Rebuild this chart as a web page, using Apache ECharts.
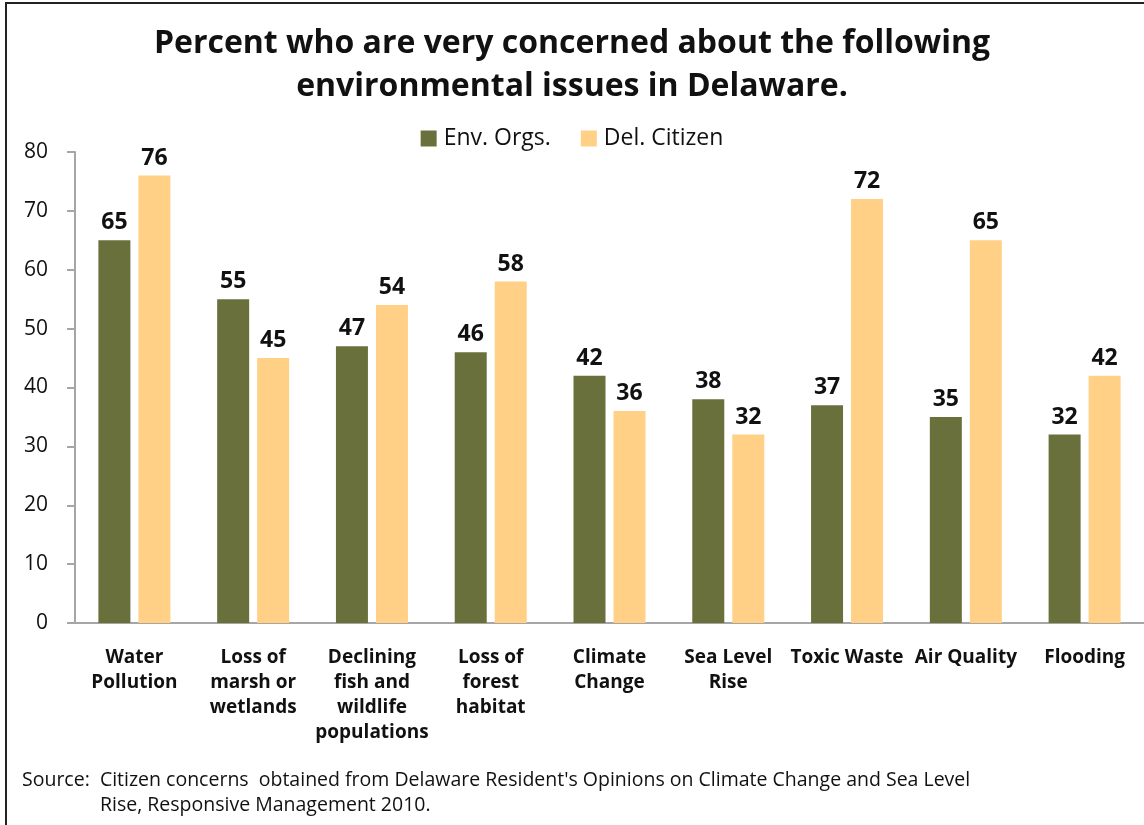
<!DOCTYPE html>
<html>
<head>
<meta charset="utf-8">
<script src="https://cdn.jsdelivr.net/npm/echarts@6/dist/echarts.min.js"></script>
<style>
  html, body { margin: 0; padding: 0; background: #fff; }
  #chart { width: 1144px; height: 825px; }
</style>
</head>
<body>
<div id="chart"></div>
<script>
// Issue categories (line breaks as they wrap under the axis)
const categories = [
  'Water\nPollution',
  'Loss of\nmarsh or\nwetlands',
  'Declining\nfish and\nwildlife\npopulations',
  'Loss of\nforest\nhabitat',
  'Climate\nChange',
  'Sea Level\nRise',
  'Toxic Waste',
  'Air Quality',
  'Flooding'
];
// Percent very concerned
const envOrgs = [65, 55, 47, 46, 42, 38, 37, 35, 32];
const delCitizen = [76, 45, 54, 58, 36, 32, 72, 65, 42];
const yTicks = { min: 0, max: 80, interval: 10 };

const FONT = '"Open Sans", "Noto Sans", sans-serif';
const GREEN = '#6a703b';
const YELLOW = '#ffd086';

const chart = echarts.init(document.getElementById('chart'), null, { renderer: 'canvas' });

const valueLabel = {
  show: true,
  position: 'top',
  distance: 6,
  color: '#111',
  fontFamily: FONT,
  fontWeight: 'bold',
  fontSize: 23
};

chart.setOption({
  animation: false,
  backgroundColor: '#fff',
  title: {
    text: 'Percent who are very concerned about the following\nenvironmental issues in Delaware.',
    left: 'center',
    top: 17,
    textStyle: {
      fontFamily: FONT,
      fontWeight: 'bold',
      fontSize: 32,
      lineHeight: 43,
      color: '#111'
    }
  },
  legend: {
    top: 122,
    left: 'center',
    itemWidth: 16,
    itemHeight: 16,
    itemGap: 30,
    icon: 'rect',
    textStyle: { fontFamily: FONT, fontSize: 23, color: '#111', padding: [0, 0, 0, 2] },
    data: ['Env. Orgs.', 'Del. Citizen']
  },
  grid: {
    left: 75,
    right: -1,
    top: 152,
    bottom: 202,
    containLabel: false
  },
  xAxis: {
    type: 'category',
    data: categories,
    axisLine: { lineStyle: { color: '#a6a6a6', width: 2 } },
    axisTick: { show: false },
    axisLabel: {
      interval: 0,
      margin: 22,
      fontFamily: FONT,
      fontWeight: 'bold',
      fontSize: 19,
      lineHeight: 25,
      color: '#111',
      verticalAlign: 'top'
    }
  },
  yAxis: {
    type: 'value',
    min: yTicks.min,
    max: yTicks.max,
    interval: yTicks.interval,
    axisLine: { show: true, lineStyle: { color: '#a6a6a6', width: 2 } },
    axisTick: { show: true, inside: false, length: 8, lineStyle: { color: '#a6a6a6', width: 2 } },
    splitLine: { show: false },
    axisLabel: {
      margin: 27,
      fontFamily: FONT,
      fontSize: 21,
      color: '#111'
    }
  },
  series: [
    {
      name: 'Env. Orgs.',
      type: 'bar',
      data: envOrgs,
      barWidth: 32,
      barGap: '25%',
      itemStyle: { color: GREEN },
      label: valueLabel
    },
    {
      name: 'Del. Citizen',
      type: 'bar',
      data: delCitizen,
      barWidth: 32,
      barGap: '25%',
      itemStyle: { color: YELLOW },
      label: valueLabel
    }
  ],
  graphic: [
    {
      type: 'rect',
      silent: true,
      shape: { x: 6, y: 3, width: 1200, height: 900 },
      style: { fill: null, stroke: '#222', lineWidth: 2 }
    },
    {
      type: 'text',
      left: 22,
      top: 770,
      style: {
        text: "Source:  Citizen concerns  obtained from Delaware Resident's Opinions on Climate Change and Sea Level",
        font: '19.5px "Open Sans", "Noto Sans", sans-serif',
        fill: '#111'
      }
    },
    {
      type: 'text',
      left: 100,
      top: 795,
      style: {
        text: 'Rise, Responsive Management 2010.',
        font: '19.5px "Open Sans", "Noto Sans", sans-serif',
        fill: '#111'
      }
    }
  ]
});
</script>
</body>
</html>
